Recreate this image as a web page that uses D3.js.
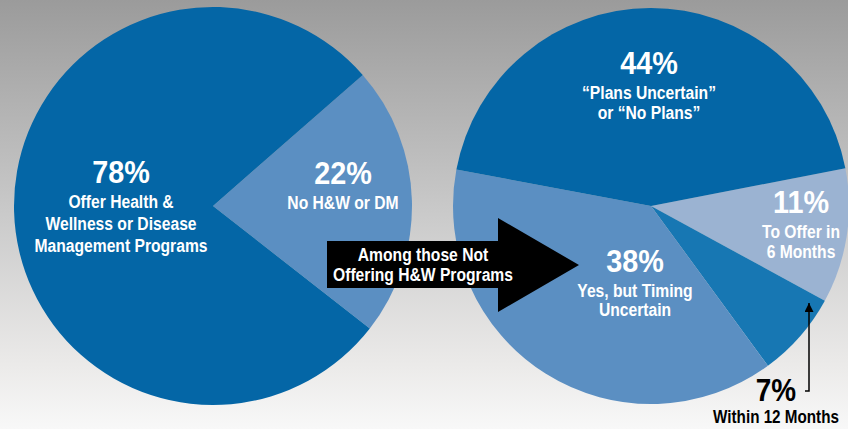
<!DOCTYPE html>
<html>
<head>
<meta charset="utf-8">
<script src="https://cdn.jsdelivr.net/npm/d3@7"></script>
<style>
  html, body { margin: 0; padding: 0; }
  svg text { font-family: "Liberation Sans", Arial, sans-serif; font-weight: bold; }
</style>
</head>
<body>
<svg width="848" height="429"></svg>
<script>
// Left pie: all employers
const leftLabels = ["No H&W or DM", "Offer Health & Wellness or Disease Management Programs"];
const leftValues = [22, 78];
// Right pie: among those not offering
const rightLabels = ["To Offer in 6 Months", "Within 12 Months", "Yes, but Timing Uncertain", "“Plans Uncertain” or “No Plans”"];
const rightValues = [11, 7, 38, 44];

const svg = d3.select("svg"),
    width = +svg.attr("width"),
    height = +svg.attr("height");

// gray background gradient
const defs = svg.append("defs");
const grad = defs.append("linearGradient")
    .attr("id", "bg")
    .attr("x1", 0).attr("y1", 0).attr("x2", 0).attr("y2", 1);
grad.append("stop").attr("offset", "0%").attr("stop-color", "#9b9b9b");
grad.append("stop").attr("offset", "50%").attr("stop-color", "#cacaca");
grad.append("stop").attr("offset", "85%").attr("stop-color", "#ebeae9");
grad.append("stop").attr("offset", "100%").attr("stop-color", "#f8f8f8");

svg.append("rect")
    .attr("width", width)
    .attr("height", height)
    .attr("fill", "url(#bg)");

const deg = Math.PI / 180;
const arc = d3.arc().innerRadius(0);

// ---- left pie
const leftColors = ["#5b8fc2", "#0466a6"];
const leftPie = d3.pie().sort(null)
    .startAngle(48.8 * deg).endAngle(48.8 * deg + 2 * Math.PI);
const gl = svg.append("g").attr("transform", "translate(213,206)");
gl.selectAll("path")
    .data(leftPie(leftValues))
    .join("path")
    .attr("d", arc.outerRadius(199))
    .attr("fill", (d, i) => leftColors[i]);

// ---- right pie
const rightColors = ["#9bb3d2", "#1777b3", "#5b8fc2", "#0466a6"];
const rightPie = d3.pie().sort(null)
    .startAngle(79 * deg).endAngle(79 * deg + 2 * Math.PI);
const gr = svg.append("g").attr("transform", "translate(651,206)");
gr.selectAll("path")
    .data(rightPie(rightValues))
    .join("path")
    .attr("d", arc.outerRadius(198))
    .attr("fill", (d, i) => rightColors[i]);

// condensed-looking text: squeeze a normal bold face horizontally
function ctext(x, y, t, size, color, sx) {
    return svg.append("text")
        .attr("transform", `translate(${x},${y}) scale(${sx || 0.87},1)`)
        .attr("text-anchor", "middle")
        .attr("fill", color)
        .style("font-size", size + "px")
        .text(t);
}

// big percent + lines underneath
function label(x, y, pct, lines, color, lineH) {
    ctext(x, y, pct + "%", 32, color, 0.9);
    lines.forEach((t, i) => ctext(x, y + 25 + i * lineH, t, 18, color));
}

label(121, 183, leftValues[1], ["Offer Health &", "Wellness or Disease", "Management Programs"], "#fff", 22);
label(343, 184, leftValues[0], [leftLabels[0]], "#fff", 22);
label(649, 74, rightValues[3], ["“Plans Uncertain”", "or “No Plans”"], "#fff", 20);
label(801, 213, rightValues[0], ["To Offer in", "6 Months"], "#fff", 20);
label(635, 272, rightValues[2], ["Yes, but Timing", "Uncertain"], "#fff", 19);

// 7% label sits outside the pie, in black
ctext(776, 401, rightValues[1] + "%", 31, "#000", 0.9);
ctext(776, 423, rightLabels[1], 17.5, "#000");

// pointer from 7% label up into the slice
defs.append("marker")
    .attr("id", "tip")
    .attr("viewBox", "0 0 10 10")
    .attr("refX", 10).attr("refY", 5)
    .attr("markerWidth", 6).attr("markerHeight", 6)
    .attr("orient", "auto")
    .append("path")
    .attr("d", "M0,0 L10,5 L0,10 Z")
    .attr("fill", "#000");
svg.append("path")
    .attr("d", "M805,391 H809 V303")
    .attr("fill", "none")
    .attr("stroke", "#000")
    .attr("stroke-width", 1.5)
    .attr("marker-end", "url(#tip)");

// big black arrow between pies
svg.append("path")
    .attr("d", "M327,241 H498 V218 L579,265 L498,312 V288 H327 Z")
    .attr("fill", "#000");
ctext(423, 261, "Among those Not", 18, "#fff");
ctext(423, 281, "Offering H&W Programs", 18, "#fff");
</script>
</body>
</html>
